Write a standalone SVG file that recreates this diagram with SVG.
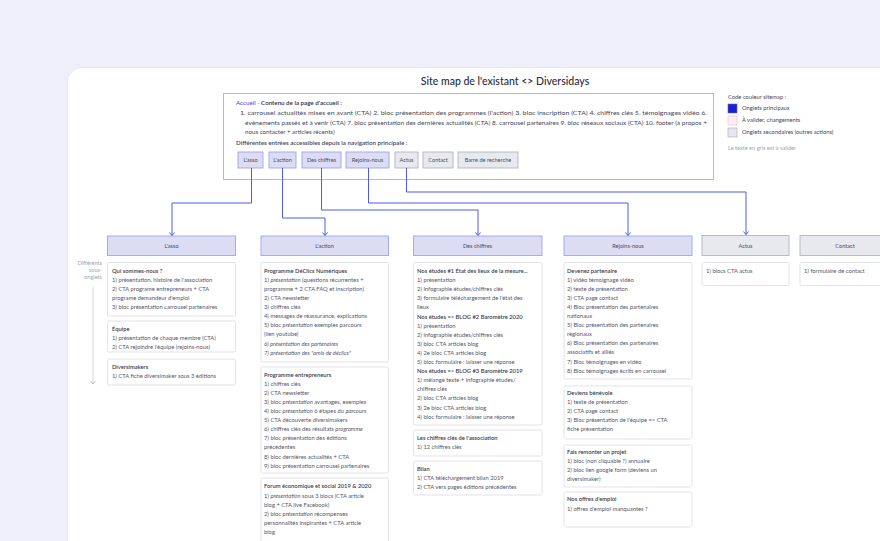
<svg xmlns="http://www.w3.org/2000/svg" width="880" height="541" viewBox="0 0 880 541">
<style>
text{font-family:Lato,"Noto Sans","Liberation Sans",sans-serif}
.ttl{font-size:10.5px;font-weight:500;fill:#2b2c3c;text-anchor:middle}
.b{font-size:5.8px;fill:#55566a}
.bb{font-size:5.8px;font-weight:600;fill:#3a3b4c}
.a{font-size:6.2px;fill:#45465a}
.hd{font-size:5.6px;fill:#4a4b5e;text-anchor:middle}
.lg{font-size:5.8px;fill:#45465a}
.gr{font-size:5.6px;fill:#a3a4b6}
.it{font-style:italic}
.card{fill:#fff;stroke:#dcdce5;stroke-width:0.8}
.pri{fill:#dcdcf4;stroke:#9ea4ed;stroke-width:0.9}
.sec{fill:#e8e8ef;stroke:#b3b3c0;stroke-width:0.9}
.con{fill:none;stroke:#3b49df;stroke-width:0.9}
</style>
<defs>
<marker id="arr" viewBox="-4 -4 5 8" markerWidth="5" markerHeight="8" refX="0" refY="0" orient="auto" markerUnits="userSpaceOnUse">
<path d="M-3,-2.6 L0,0 L-3,2.6" fill="none" stroke="#3b49df" stroke-width="0.9"/>
</marker>
<marker id="garr" viewBox="-4 -4 5 8" markerWidth="5" markerHeight="8" refX="0" refY="0" orient="auto" markerUnits="userSpaceOnUse">
<path d="M-3,-2.6 L0,0 L-3,2.6" fill="none" stroke="#b5b6c6" stroke-width="0.8"/>
</marker>
</defs>
<rect width="880" height="541" fill="#eeeffa"/>
<rect x="66.5" y="67" width="840" height="500" rx="15" fill="#e8e9f5"/>
<rect x="68" y="68" width="840" height="500" rx="14" fill="#ffffff"/>

<text class="ttl" x="505" y="85">Site map de l'existant &lt;&gt; Diversidays</text>

<g id="accueil">
<rect x="223.5" y="93.5" width="490" height="86" fill="#fff" stroke="#b0b5f3" stroke-width="1"/>
<text class="a" x="236" y="105"><tspan fill="#3b49df">Accueil - </tspan><tspan font-weight="600" fill="#2e2f40">Contenu de la page d'accueil :</tspan></text>
<text class="a" x="240" y="115" textLength="467" lengthAdjust="spacingAndGlyphs">1. carrousel actualités mises en avant (CTA) 2. bloc présentation des programmes (l'action) 3. bloc inscription (CTA) 4. chiffres clés 5. témoignages vidéo 6.</text>
<text class="a" x="245" y="124.5" textLength="462" lengthAdjust="spacingAndGlyphs">événements passés et à venir (CTA) 7. bloc présentation des dernières actualités (CTA) 8. carrousel partenaires 9. bloc réseaux sociaux (CTA) 10. footer (à propos +</text>
<text class="a" x="245" y="133.5">nous contacter + articles récents)</text>
<text class="a" x="236" y="145" font-weight="600" fill="#2e2f40">Différentes entrées accessibles depuis la navigation principale :</text>
<g id="nav-asso"><rect class="pri" x="238" y="152" width="25" height="16"/><text class="hd" x="250.5" y="162">L'asso</text></g>
<g id="nav-action"><rect class="pri" x="269" y="152" width="27" height="16"/><text class="hd" x="282.5" y="162">L'action</text></g>
<g id="nav-chiffres"><rect class="pri" x="302" y="152" width="39" height="16"/><text class="hd" x="321.5" y="162">Des chiffres</text></g>
<g id="nav-rejoins"><rect class="pri" x="346" y="152" width="43" height="16"/><text class="hd" x="367.5" y="162">Rejoins-nous</text></g>
<g id="nav-actus"><rect class="sec" x="395" y="152" width="23" height="16"/><text class="hd" x="406.5" y="162">Actus</text></g>
<g id="nav-contact"><rect class="sec" x="423" y="152" width="30" height="16"/><text class="hd" x="438" y="162">Contact</text></g>
<g id="nav-recherche"><rect class="sec" x="458" y="152" width="60" height="16"/><text class="hd" x="488" y="162">Barre de recherche</text></g>
</g>

<g id="legend">
<text class="lg" x="728" y="99">Code couleur sitemap :</text>
<rect x="728" y="104" width="9" height="9" fill="#1a20cf" stroke="#5b63e6" stroke-width="0.6"/>
<text class="lg" x="742" y="110">Onglets principaux</text>
<rect x="728" y="116" width="9" height="9" fill="#fdedf1" stroke="#f2c3cf" stroke-width="0.7"/>
<text class="lg" x="742" y="122">À valider, changements</text>
<rect x="728" y="128" width="9" height="9" fill="#e6e6ef" stroke="#b3b3c2" stroke-width="0.7"/>
<text class="lg" x="742" y="134">Onglets secondaires (outres actions)</text>
<text class="gr" x="728" y="150">Le texte en gris est à valider</text>
</g>

<g id="connectors">
<path class="con" d="M251.5,168 V203 H172 V235.5" marker-end="url(#arr)"/>
<path class="con" d="M282.5,168 V218 H325 V235.5" marker-end="url(#arr)"/>
<path class="con" d="M321.5,168 V210 H478 V235.5" marker-end="url(#arr)"/>
<path class="con" d="M368.5,168 V203 H628 V235.5" marker-end="url(#arr)"/>
<path class="con" d="M406.5,168 V192 H746 V234.5" marker-end="url(#arr)"/>
<path d="M93,287 V384" fill="none" stroke="#c9cad6" stroke-width="0.8" marker-end="url(#garr)"/>
</g>

<g id="sous-onglets">
<text class="gr" x="102" y="265" text-anchor="end" font-size="4.8">Différents</text>
<text class="gr" x="102" y="272" text-anchor="end" font-size="4.8">sous-</text>
<text class="gr" x="102" y="279" text-anchor="end" font-size="4.8">onglets</text>
</g>

<g id="asso">
<rect class="pri" x="107.5" y="236" width="128" height="19.5"/>
<text class="hd" x="171.5" y="247.5">L'asso</text>
<rect class="card" x="107.5" y="262.5" width="128" height="53.5" rx="1.5"/>
<text class="bb" x="112" y="273">Qui sommes-nous ?</text>
<text class="b" x="112" y="282">1) présentation, histoire de l'association</text>
<text class="b" x="112" y="291">2) CTA programe entrepreneurs + CTA</text>
<text class="b" x="112" y="300">programe demandeur d'emploi</text>
<text class="b" x="112" y="309">3) bloc présentation carrousel partenaires</text>
<rect class="card" x="107.5" y="321" width="128" height="31" rx="1.5"/>
<text class="bb" x="112" y="331">Équipe</text>
<text class="b" x="112" y="340">1) présentation de chaque membre (CTA)</text>
<text class="b" x="112" y="349">2) CTA rejoindre l'équipe (rejoins-nous)</text>
<rect class="card" x="107.5" y="359" width="128" height="26" rx="1.5"/>
<text class="bb" x="112" y="369">Diversimakers</text>
<text class="b" x="112" y="378">1) CTA fiche diversimaker sous 3 éditions</text>
</g>

<g id="action">
<rect class="pri" x="261" y="236" width="127.5" height="19.5"/>
<text class="hd" x="324.5" y="247.5">L'action</text>
<rect class="card" x="261" y="262.5" width="127.5" height="99.5" rx="1.5"/>
<text class="bb" x="264" y="273">Programme DéClics Numériques</text>
<text class="b" x="264" y="282">1) <tspan class="it">présentation</tspan> (questions récurrentes +</text>
<text class="b" x="264" y="291">programme + 2 CTA FAQ et inscription)</text>
<text class="b" x="264" y="300">2) CTA newsletter</text>
<text class="b" x="264" y="309">3) chiffres clés</text>
<text class="b" x="264" y="318">4) messages de réassurance, explications</text>
<text class="b" x="264" y="327">5) bloc <tspan class="it">présentation</tspan> exemples parcours</text>
<text class="b" x="264" y="336">(lien youtube)</text>
<text class="b it" x="264" y="345.5">6) présentation des partenaires</text>
<text class="b it" x="264" y="354.5">7) présentation des "amis de déclics"</text>
<rect class="card" x="261" y="367" width="127.5" height="106" rx="1.5"/>
<text class="bb" x="264" y="377">Programme entrepreneurs</text>
<text class="b" x="264" y="386">1) chiffres clés</text>
<text class="b" x="264" y="395">2) CTA newsletter</text>
<text class="b" x="264" y="404">3) bloc <tspan class="it">présentation</tspan> avantages, exemples</text>
<text class="b" x="264" y="413">4) bloc <tspan class="it">présentation</tspan> 6 étapes du <tspan class="it">parcours</tspan></text>
<text class="b" x="264" y="422">5) CTA découverte diversimakers</text>
<text class="b" x="264" y="431">6) chiffres clés des résultats <tspan class="it">programme</tspan></text>
<text class="b" x="264" y="440">7) bloc présentation des éditions</text>
<text class="b" x="264" y="449">précédentes</text>
<text class="b" x="264" y="459">8) bloc dernières actualités + CTA</text>
<text class="b" x="264" y="468">9) bloc présentation carrousel partenaires</text>
<rect class="card" x="261" y="478" width="127.5" height="75" rx="1.5"/>
<text class="bb" x="264" y="488">Forum économique et social 2019 &amp; 2020</text>
<text class="b" x="264" y="498">1) <tspan class="it">présentation</tspan> sous 3 blocs (CTA article</text>
<text class="b" x="264" y="507">blog + CTA live Facebook)</text>
<text class="b" x="264" y="516">2) bloc <tspan class="it">présentation</tspan> récompenses</text>
<text class="b" x="264" y="525">personnalités inspirantes + CTA article</text>
<text class="b" x="264" y="534">blog</text>
</g>

<g id="chiffres">
<rect class="pri" x="413.5" y="236" width="128.5" height="19.5"/>
<text class="hd" x="477.5" y="247.5">Des chiffres</text>
<rect class="card" x="413.5" y="262.5" width="128.5" height="162.5" rx="1.5"/>
<text class="bb" x="417" y="273">Nos études #1 État des lieux de la mesure...</text>
<text class="b" x="417" y="282.1">1) présentation</text>
<text class="b" x="417" y="291.2">2) infographie études/chiffres clés</text>
<text class="b" x="417" y="300.3">3) formulaire téléchargement de l'état des</text>
<text class="b" x="417" y="309.4">lieux</text>
<text class="bb" x="417" y="318.5">Nos études =&gt; BLOG #2 Baromètre 2020</text>
<text class="b" x="417" y="327.6">1) présentation</text>
<text class="b" x="417" y="336.7">2) infographie études/chiffres clés</text>
<text class="b" x="417" y="345.8">3) bloc CTA articles blog</text>
<text class="b" x="417" y="354.9">4) 2e bloc CTA articles blog</text>
<text class="b" x="417" y="364">5) bloc formulaire : laisser une réponse</text>
<text class="bb" x="417" y="373.1">Nos études =&gt; BLOG #3 Baromètre 2019</text>
<text class="b" x="417" y="382.2">1) mélange texte + infographie études/</text>
<text class="b" x="417" y="391.3">chiffres clés</text>
<text class="b" x="417" y="400.4">2) bloc CTA articles blog</text>
<text class="b" x="417" y="409.5">3) 2e bloc CTA articles blog</text>
<text class="b" x="417" y="418.6">4) bloc formulaire : laisser une réponse</text>
<rect class="card" x="413.5" y="430" width="128.5" height="26" rx="1.5"/>
<text class="bb" x="417" y="440">Les chiffres clés de l'association</text>
<text class="b" x="417" y="449">1) 12 chiffres clés</text>
<rect class="card" x="413.5" y="461" width="128.5" height="34" rx="1.5"/>
<text class="bb" x="417" y="471">Bilan</text>
<text class="b" x="417" y="480">1) CTA téléchargement bilan 2019</text>
<text class="b" x="417" y="489">2) CTA vers pages éditions précédentes</text>
</g>

<g id="rejoins">
<rect class="pri" x="564" y="236" width="128" height="19.5"/>
<text class="hd" x="628" y="247.5">Rejoins-nous</text>
<rect class="card" x="564" y="262.5" width="128" height="116.5" rx="1.5"/>
<text class="bb" x="567" y="273">Devenez partenaire</text>
<text class="b" x="567" y="282">1) vidéo témoignage vidéo</text>
<text class="b" x="567" y="291">2) texte de présentation</text>
<text class="b" x="567" y="300">3) CTA page contact</text>
<text class="b" x="567" y="309">4) Bloc présentation des partenaires</text>
<text class="b" x="567" y="318">nationaux</text>
<text class="b" x="567" y="327">5) Bloc présentation des partenaires</text>
<text class="b" x="567" y="336">régionaux</text>
<text class="b" x="567" y="345">6) Bloc présentation des partenaires</text>
<text class="b" x="567" y="354">associatifs et alliés</text>
<text class="b" x="567" y="363.5">7) Bloc témoignages en vidéo</text>
<text class="b" x="567" y="372.5">8) Bloc témoignages écrits en carrousel</text>
<rect class="card" x="564" y="386" width="128" height="53" rx="1.5"/>
<text class="bb" x="567" y="394.5">Deviens bénévole</text>
<text class="b" x="567" y="404">1) texte de présentation</text>
<text class="b" x="567" y="413">2) CTA page contact</text>
<text class="b" x="567" y="422">3) Bloc présentation de l'équipe =&gt; CTA</text>
<text class="b" x="567" y="431">fiche présentation</text>
<rect class="card" x="564" y="445" width="128" height="42" rx="1.5"/>
<text class="bb" x="567" y="453.5">Fais remonter un projet</text>
<text class="b" x="567" y="463">1) bloc (non cliquable ?) annuaire</text>
<text class="b" x="567" y="472">2) bloc lien google form (deviens un</text>
<text class="b" x="567" y="481">diversimaker)</text>
<rect class="card" x="564" y="492" width="128" height="35" rx="1.5"/>
<text class="bb" x="567" y="501">Nos offres d'emploi</text>
<text class="b" x="567" y="511">1) offres d'emploi manquantes ?</text>
</g>

<g id="actus">
<rect class="sec" x="702" y="235.5" width="87" height="20"/>
<text class="hd" x="745.5" y="247.5">Actus</text>
<rect class="card" x="702" y="262.5" width="87" height="23" rx="1.5"/>
<text class="b" x="706" y="273">1) blocs CTA actus</text>
</g>

<g id="contact">
<rect class="sec" x="800" y="235.5" width="92" height="20"/>
<text class="hd" x="845" y="247.5">Contact</text>
<rect class="card" x="800" y="262.5" width="92" height="23" rx="1.5"/>
<text class="b" x="804" y="273">1) formulaire de contact</text>
</g>
</svg>
